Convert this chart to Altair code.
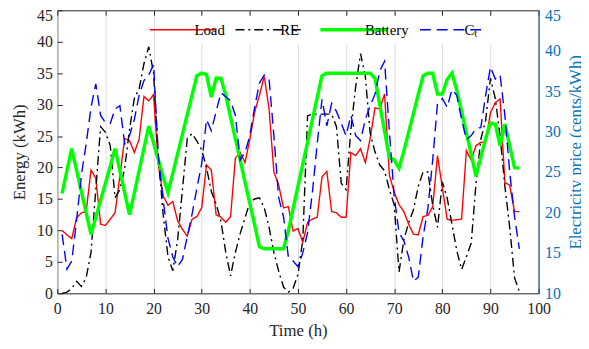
import altair as alt
import pandas as pd

hours = list(range(1, 97))
series_names = ["Load", "RE", "Battery", "Cₜ"]

load = [10.0, 9.3, 8.7, 12.0, 12.8, 13.0, 19.6, 18.3, 11.0, 10.8,
        11.8, 12.8, 18.7, 24.6, 24.3, 22.4, 24.5, 31.3, 30.6, 31.6,
        20.4, 15.5, 14.0, 14.6, 11.5, 10.2, 9.1, 11.8, 12.2, 13.6,
        20.4, 19.6, 12.5, 12.1, 11.3, 12.2, 21.5, 22.4, 20.8, 24.5,
        28.8, 31.5, 34.5, 29.3, 19.3, 17.2, 13.6, 13.8, 9.9, 10.3,
        8.1, 11.3, 11.8, 12.1, 18.5, 19.4, 13.0, 12.8, 12.1, 12.1,
        22.4, 21.9, 23.0, 20.8, 24.6, 29.5, 29.3, 31.7, 18.8, 16.1,
        14.1, 13.0, 11.0, 9.4, 9.3, 12.2, 12.4, 13.8, 21.9, 16.8,
        11.8, 11.6, 11.7, 11.8, 22.7, 21.2, 23.5, 24.0, 24.1, 28.7,
        30.3, 30.9, 17.6, 17.2, 13.0, 13.0]

renewable = [0.0, 0.2, 0.8, 1.9, 1.1, 2.5, 6.5, 16.5, 26.5, 25.6,
             23.5, 15.2, 16.5, 19.9, 26.0, 31.0, 32.5, 36.5, 39.2, 35.0,
             21.5, 12.5, 5.8, 3.6, 8.5, 16.5, 24.6, 25.4, 24.2, 22.8,
             20.0, 16.2, 14.2, 11.5, 6.5, 2.8, 6.5, 9.5, 12.0, 14.5,
             15.0, 15.2, 13.6, 10.5, 6.5, 3.5, 1.0, 0.2, 0.8, 3.0,
             8.5, 28.2, 28.5, 28.5, 28.5, 28.5, 28.5, 26.5, 17.5, 16.5,
             26.0, 32.9, 38.1, 34.5, 25.5, 22.5, 20.4, 19.5, 16.5, 14.1,
             3.4, 8.5, 11.2, 13.3, 17.0, 19.3, 19.3, 14.0, 10.5, 17.7,
             15.2, 11.0, 6.8, 3.8, 5.8, 8.0, 17.5, 24.5, 27.5, 34.2,
             31.0, 25.0, 17.0, 10.5, 2.5, 0.3]

battery = [15.9, 19.5, 23.0, 19.6, 16.2, 12.8, 9.4, 12.1, 14.8, 17.5,
           20.2, 23.0, 19.5, 16.0, 12.5, 15.9, 19.5, 23.0, 26.6, 23.9,
           21.2, 18.5, 16.0, 19.1, 22.2, 25.3, 28.4, 31.5, 34.6, 35.0,
           34.8, 31.2, 34.2, 34.2, 31.5, 28.0, 24.6, 21.2, 17.7, 14.3,
           10.9, 7.4, 7.1, 7.1, 7.1, 7.1, 7.1, 9.9, 13.5, 17.0,
           20.5, 24.0, 27.6, 31.1, 34.6, 35.0, 35.0, 35.0, 35.0, 35.0,
           35.0, 35.0, 35.0, 35.0, 35.0, 34.2, 30.0, 25.8, 21.6, 21.2,
           19.9, 22.6, 25.6, 28.6, 31.6, 34.6, 35.0, 35.0, 31.7, 31.7,
           34.0, 35.0, 32.3, 28.9, 25.5, 22.1, 18.6, 21.6, 24.6, 27.1,
           26.9, 23.5, 26.9, 23.5, 20.0, 19.9]

price = [17.3, 13.0, 14.0, 19.0, 24.6, 28.5, 33.0, 35.9, 32.0, 31.1,
         31.0, 32.8, 33.2, 28.5, 29.5, 31.5, 34.5, 36.3, 37.0, 38.3,
         27.0, 21.5, 16.8, 14.5, 13.3, 14.2, 17.0, 19.8, 23.0, 26.0,
         31.5, 30.1, 32.5, 34.8, 34.3, 33.8, 32.0, 26.5, 27.4, 29.5,
         33.0, 36.0, 37.0, 36.5, 29.5, 21.8, 19.5, 14.5, 14.0, 13.3,
         15.0, 17.5, 22.5, 28.5, 34.0, 30.7, 33.5, 32.5, 31.0, 29.5,
         32.0, 29.5, 28.9, 31.5, 33.2, 34.6, 37.5, 38.7, 30.0, 22.0,
         17.5, 16.5, 14.5, 11.5, 12.0, 17.0, 20.5, 26.5, 33.5, 34.1,
         33.0, 35.2, 34.5, 31.5, 29.0, 29.5, 30.4, 30.5, 34.5, 38.0,
         36.5, 37.0, 32.0, 25.0, 19.5, 15.5]

x_ticks = list(range(0, 101, 10))
energy_ticks = list(range(0, 46, 5))
price_ticks = list(range(10, 46, 5))

colors = ["#ff0000", "#000000", "#00ff00", "#0000ff"]
dashes = [[1, 0], [9, 4, 2, 4], [1, 0], [11, 6]]

rows = []
for name, vals in zip(series_names, [load, renewable, battery, price]):
    for h, v in zip(hours, vals):
        rows.append({"t": h, "series": name, "value": v})
df = pd.DataFrame(rows)

FONT = "Liberation Serif"
DARK = "#262626"
BLUE_AX = "#0072BD"

legend = alt.Legend(
    title=None, orient="none", legendX=114, legendY=6, direction="horizontal",
    symbolType="stroke", symbolSize=4556, labelFontSize=15, labelFont=FONT,
    labelColor="black", columnPadding=7, labelOffset=4, padding=6,
    fillColor="white",
    symbolStrokeWidth=alt.ExprRef("datum.value === 'Battery' ? 3.5 : 1.5"),
)

bottom_axis = alt.Axis(
    values=x_ticks, title="Time (h)", grid=True, gridColor="#dcdcdc",
    ticks=True, tickSize=5, tickColor=DARK, offset=-5, domain=False,
    labelPadding=7, titleY=43, titleBaseline="middle",
    labelColor=DARK, titleColor=DARK, labelFlush=False,
)
top_axis = alt.Axis(
    orient="top", values=x_ticks, title=None, grid=False, labels=False,
    ticks=True, tickSize=5, tickColor=DARK, offset=-5, domain=False,
)

x_scale = alt.Scale(domain=[0, 100], nice=False)
color_enc = alt.Color("series:N", scale=alt.Scale(domain=series_names, range=colors), legend=legend)
dash_enc = alt.StrokeDash("series:N", scale=alt.Scale(domain=series_names, range=dashes), legend=legend)
width_enc = alt.condition(alt.datum.series == "Battery", alt.value(3.5), alt.value(1.4))

base = alt.Chart(df)

left = base.transform_filter(
    alt.FieldOneOfPredicate(field="series", oneOf=series_names[:3])
).mark_line().encode(
    x=alt.X("t:Q", scale=x_scale, axis=bottom_axis),
    y=alt.Y("value:Q", scale=alt.Scale(domain=[0, 45], nice=False),
            axis=alt.Axis(orient="left", values=energy_ticks, title="Energy (kWh)",
                          grid=False, ticks=True, tickSize=5, tickColor=DARK,
                          offset=-5, domain=False, labelPadding=5,
                          titleX=-43, titleY=143.5, titleAngle=270, titleAlign="center",
                          titleBaseline="middle", labelColor=DARK, titleColor=DARK,
                          labelOffset={"condition": {"test": "datum.value == 45", "value": 5}, "value": 0})),
    color=color_enc,
    strokeDash=dash_enc,
    strokeWidth=width_enc,
)

right = base.transform_filter(
    alt.FieldOneOfPredicate(field="series", oneOf=series_names[3:])
).mark_line().encode(
    x=alt.X("t:Q", scale=x_scale, axis=top_axis),
    y=alt.Y("value:Q", scale=alt.Scale(domain=[10, 45], nice=False),
            axis=alt.Axis(orient="right", values=price_ticks,
                          title="Electricity price (cents/kWh)",
                          grid=False, ticks=False, labelPadding=6,
                          titleX=38, titleY=143.5, titleAngle=270, titleAlign="center",
                          titleBaseline="middle", domainColor=BLUE_AX, labelColor=BLUE_AX,
                          titleColor=BLUE_AX,
                          labelOffset={"condition": {"test": "datum.value == 45", "value": 5}, "value": 0})),
    color=color_enc,
    strokeDash=dash_enc,
    strokeWidth=width_enc,
)

chart = alt.layer(left, right).resolve_scale(x="independent", y="independent").properties(
    width=488, height=287,
    autosize=alt.AutoSizeParams(type="none"),
    padding={"left": 50, "top": 0, "right": 43, "bottom": 47},
).configure(font=FONT).configure_view(
    stroke=DARK, strokeWidth=1
).configure_axis(
    labelFont=FONT, titleFont=FONT, labelFontSize=16, titleFontSize=17,
    titleFontWeight="normal", labelFontWeight="normal",
).configure_legend(labelFont=FONT, labelFontSize=15)

chart.save("out.html", embed_options={"renderer": "svg", "actions": False})
